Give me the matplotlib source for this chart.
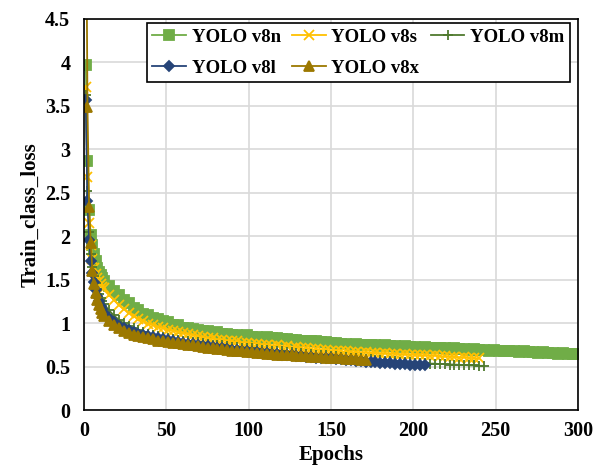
import matplotlib
matplotlib.use("Agg")
import matplotlib.pyplot as plt

# loss values: epochs 1..12 every epoch, then every 3rd epoch from 15
loss_v8n = [3.97, 2.87, 2.30, 2.01, 1.90, 1.80, 1.71, 1.64, 1.59, 1.55, 1.52, 1.49,
            1.43, 1.37, 1.32, 1.27, 1.23, 1.18, 1.15, 1.11, 1.09, 1.06, 1.05, 1.02,
            1.01, 0.98, 0.975, 0.95, 0.95, 0.93, 0.925, 0.905, 0.905, 0.89, 0.895, 0.88,
            0.875, 0.865, 0.87, 0.855, 0.86, 0.845, 0.845, 0.835, 0.84, 0.825, 0.83, 0.815,
            0.82, 0.805, 0.81, 0.80, 0.795, 0.79, 0.795, 0.78, 0.785, 0.77, 0.775, 0.76,
            0.765, 0.755, 0.76, 0.75, 0.755, 0.745, 0.745, 0.74, 0.745, 0.735, 0.74, 0.73,
            0.735, 0.725, 0.73, 0.72, 0.725, 0.715, 0.72, 0.71, 0.715, 0.705, 0.71, 0.70,
            0.705, 0.695, 0.70, 0.69, 0.695, 0.685, 0.69, 0.68, 0.685, 0.675, 0.68, 0.67,
            0.675, 0.665, 0.67, 0.66, 0.665, 0.655, 0.66, 0.65, 0.655, 0.645, 0.65, 0.645]

loss_v8s = [3.72, 2.68, 2.15, 1.90, 1.74, 1.64, 1.57, 1.52, 1.48, 1.45, 1.42, 1.40,
            1.33, 1.27, 1.21, 1.165, 1.12, 1.085, 1.05, 1.025, 0.995, 0.98, 0.955, 0.945,
            0.925, 0.915, 0.90, 0.89, 0.875, 0.865, 0.85, 0.84, 0.83, 0.825, 0.81, 0.81,
            0.80, 0.79, 0.79, 0.775, 0.775, 0.765, 0.765, 0.75, 0.755, 0.74, 0.745, 0.73,
            0.735, 0.72, 0.725, 0.71, 0.715, 0.70, 0.70, 0.69, 0.695, 0.68, 0.685, 0.675,
            0.675, 0.665, 0.67, 0.66, 0.665, 0.655, 0.66, 0.65, 0.655, 0.645, 0.65, 0.64,
            0.645, 0.635, 0.64, 0.63, 0.635, 0.625, 0.63, 0.62, 0.62, 0.615, 0.615, 0.605,
            0.61, 0.60, 0.60, 0.595]

loss_v8m = [3.62, 2.52, 2.05, 1.80, 1.65, 1.54, 1.46, 1.39, 1.34, 1.29, 1.25, 1.22,
            1.15, 1.09, 1.04, 1.00, 0.97, 0.945, 0.92, 0.90, 0.88, 0.865, 0.85, 0.84,
            0.83, 0.82, 0.81, 0.80, 0.795, 0.785, 0.78, 0.77, 0.765, 0.755, 0.75, 0.745,
            0.735, 0.73, 0.725, 0.72, 0.715, 0.71, 0.70, 0.695, 0.69, 0.685, 0.68, 0.675,
            0.67, 0.665, 0.66, 0.655, 0.65, 0.645, 0.64, 0.635, 0.63, 0.625, 0.62, 0.615,
            0.61, 0.605, 0.60, 0.595, 0.59, 0.585, 0.58, 0.575, 0.57, 0.565, 0.56, 0.555,
            0.55, 0.55, 0.545, 0.54, 0.54, 0.535, 0.535, 0.53, 0.53, 0.525, 0.525, 0.52,
            0.52, 0.515, 0.515, 0.51, 0.51]

loss_v8l = [3.57, 2.40, 1.96, 1.72, 1.58, 1.47, 1.38, 1.31, 1.25, 1.20, 1.16, 1.12,
            1.06, 1.01, 0.97, 0.945, 0.92, 0.90, 0.88, 0.865, 0.85, 0.84, 0.825, 0.815,
            0.805, 0.795, 0.785, 0.775, 0.765, 0.76, 0.75, 0.74, 0.735, 0.725, 0.72, 0.71,
            0.705, 0.695, 0.69, 0.685, 0.68, 0.67, 0.665, 0.66, 0.655, 0.65, 0.645, 0.64,
            0.635, 0.63, 0.625, 0.62, 0.615, 0.61, 0.605, 0.60, 0.60, 0.595, 0.59, 0.585,
            0.58, 0.575, 0.57, 0.565, 0.555, 0.555, 0.55, 0.545, 0.545, 0.54, 0.535, 0.535,
            0.53, 0.525, 0.525, 0.52, 0.515]

loss_v8x = [6.50, 3.49, 2.34, 1.92, 1.60, 1.45, 1.35, 1.27, 1.21, 1.16, 1.12, 1.08,
            1.02, 0.98, 0.94, 0.915, 0.89, 0.87, 0.855, 0.84, 0.825, 0.815, 0.80, 0.795,
            0.785, 0.775, 0.77, 0.76, 0.75, 0.745, 0.735, 0.725, 0.72, 0.71, 0.705, 0.70,
            0.69, 0.685, 0.68, 0.675, 0.67, 0.665, 0.66, 0.655, 0.65, 0.645, 0.64, 0.635,
            0.63, 0.63, 0.625, 0.62, 0.62, 0.615, 0.61, 0.61, 0.605, 0.60, 0.60, 0.595,
            0.59, 0.585, 0.585, 0.58, 0.575]

names = ["YOLO v8n", "YOLO v8s", "YOLO v8m", "YOLO v8l", "YOLO v8x"]
colors = ["#70AD47", "#FFC000", "#4F7A2E", "#264478", "#9C7800"]
markers = ["s", "x", "+", "D", "^"]
msizes = [7, 6.5, 6.5, 5.5, 7.5]
y_ticks = [0, 0.5, 1, 1.5, 2, 2.5, 3, 3.5, 4, 4.5]
y_labels = ["0", "0.5", "1", "1.5", "2", "2.5", "3", "3.5", "4", "4.5"]
x_ticks = [0, 50, 100, 150, 200, 250, 300]


def epochs_for(vals):
    return list(range(1, 13)) + list(range(15, 15 + 3 * (len(vals) - 12), 3))


plt.rcParams["font.family"] = ["Liberation Serif", "DejaVu Serif"]
plt.rcParams["font.weight"] = "bold"

fig = plt.figure(figsize=(5.97, 4.72), dpi=100)
ax = fig.add_axes([0.141, 0.131, 0.827, 0.829])

series = [loss_v8n, loss_v8s, loss_v8m, loss_v8l, loss_v8x]
handles = []
for vals, name, c, m, ms in zip(series, names, colors, markers, msizes):
    h, = ax.plot(epochs_for(vals), vals, color=c, marker=m, markersize=ms,
                 markeredgewidth=1.3, linewidth=1.3, label=name)
    handles.append(h)

ax.set_xlim(0, 300)
ax.set_ylim(0, 4.5)
ax.set_xticks(x_ticks)
ax.set_yticks(y_ticks)
ax.set_yticklabels(y_labels)
ax.tick_params(axis="y", length=0, labelsize=14.5, pad=10)
ax.tick_params(axis="x", length=0, labelsize=14.5, pad=8)
for lab in ax.get_xticklabels() + ax.get_yticklabels():
    lab.set_fontweight("bold")
ax.grid(True, color="#D9D9D9", linewidth=1.2)
ax.set_axisbelow(True)
for sp in ax.spines.values():
    sp.set_color("black")
    sp.set_linewidth(1.2)

ax.set_xlabel("Epochs", fontsize=15, fontweight="bold", labelpad=3)
ax.set_ylabel("Train_class_loss", fontsize=15, fontweight="bold", labelpad=3)

order = [0, 3, 1, 4, 2]
leg = ax.legend([handles[i] for i in order], [names[i] for i in order],
                ncol=3, loc="upper right", bbox_to_anchor=(0.984, 0.99),
                borderaxespad=0, fancybox=False, edgecolor="black", framealpha=1,
                prop={"size": 13.5, "weight": "bold"}, handlelength=1.8,
                handletextpad=0.3, columnspacing=0.6, borderpad=0.3,
                labelspacing=0.75)
leg.get_frame().set_linewidth(1.2)

fig.savefig("out.png", dpi=100)
